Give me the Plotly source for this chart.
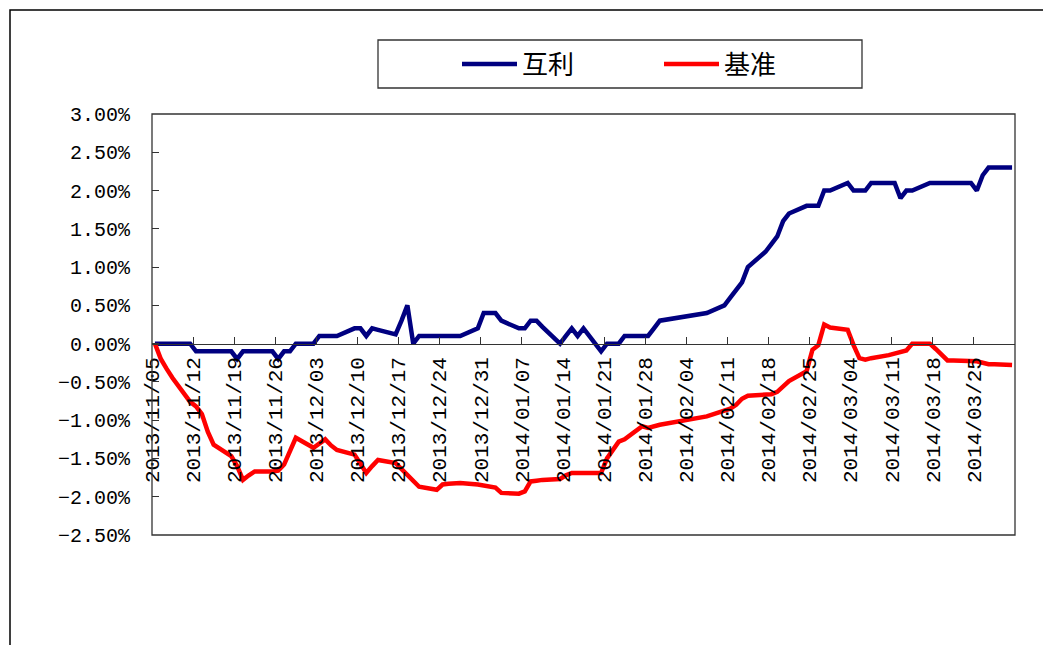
import pandas as pd
import plotly.graph_objects as go

# ---- data -------------------------------------------------------------
dates = [
    "2013-11-05", "2013-11-06", "2013-11-07", "2013-11-08", "2013-11-11", "2013-11-12",
    "2013-11-13", "2013-11-14", "2013-11-15", "2013-11-18", "2013-11-19", "2013-11-20",
    "2013-11-21", "2013-11-22", "2013-11-25", "2013-11-26", "2013-11-27", "2013-11-28",
    "2013-11-29",
    "2013-12-02", "2013-12-03", "2013-12-04", "2013-12-05", "2013-12-06", "2013-12-09",
    "2013-12-10", "2013-12-11", "2013-12-12", "2013-12-13", "2013-12-16", "2013-12-17",
    "2013-12-18", "2013-12-19", "2013-12-20", "2013-12-23", "2013-12-24", "2013-12-25",
    "2013-12-26", "2013-12-27", "2013-12-30", "2013-12-31",
    "2014-01-02", "2014-01-03", "2014-01-06", "2014-01-07", "2014-01-08", "2014-01-09",
    "2014-01-10", "2014-01-13", "2014-01-14", "2014-01-15", "2014-01-16", "2014-01-17",
    "2014-01-20", "2014-01-21", "2014-01-22", "2014-01-23", "2014-01-24", "2014-01-27",
    "2014-01-28", "2014-01-29", "2014-01-30",
    "2014-02-07", "2014-02-10", "2014-02-11", "2014-02-12", "2014-02-13", "2014-02-14",
    "2014-02-17", "2014-02-18", "2014-02-19", "2014-02-20", "2014-02-21", "2014-02-24",
    "2014-02-25", "2014-02-26", "2014-02-27", "2014-02-28",
    "2014-03-03", "2014-03-04", "2014-03-05", "2014-03-06", "2014-03-07", "2014-03-10",
    "2014-03-11", "2014-03-12", "2014-03-13", "2014-03-14", "2014-03-17", "2014-03-18",
    "2014-03-19", "2014-03-20", "2014-03-21", "2014-03-24", "2014-03-25", "2014-03-26",
    "2014-03-27", "2014-03-28", "2014-03-31",
]

# 互利 (percent)
huli = [
    0, 0, 0, 0, 0, -0.1, -0.1, -0.1, -0.1, -0.1, -0.2, -0.1, -0.1, -0.1, -0.1, -0.2, -0.1, -0.1, 0.0,
    0.0, 0.1, 0.1, 0.1, 0.1, 0.2, 0.2, 0.1, 0.2, 0.18, 0.12, 0.3, 0.5, 0.0, 0.1, 0.1, 0.1, 0.1,
    0.1, 0.1, 0.2, 0.4,
    0.4, 0.3, 0.2, 0.2, 0.3, 0.3, 0.22, 0.0, 0.1, 0.2, 0.1, 0.2, -0.1, 0.0, 0.0, 0.0, 0.1, 0.1,
    0.1, 0.2, 0.3,
    0.4, 0.5, 0.6, 0.7, 0.8, 1.0, 1.2, 1.3, 1.4, 1.6, 1.7, 1.8, 1.8, 1.8, 2.0, 2.0,
    2.1, 2.0, 2.0, 2.0, 2.1, 2.1, 2.1, 1.9, 2.0, 2.0, 2.1, 2.1, 2.1, 2.1, 2.1, 2.1, 2.0, 2.2,
    2.3, 2.3, 2.3,
]

# 基准 (percent)
jizhun = [
    0, -0.2, -0.33, -0.45, -0.76, -0.82, -0.92, -1.15, -1.32, -1.47, -1.6, -1.78, -1.72, -1.67,
    -1.67, -1.66, -1.58, -1.42, -1.23,
    -1.36, -1.3, -1.25, -1.33, -1.39, -1.45, -1.57, -1.69, -1.6, -1.52, -1.56, -1.64, -1.72,
    -1.8, -1.87, -1.91, -1.84, -1.83, -1.82, -1.82, -1.84, -1.85,
    -1.88, -1.95, -1.96, -1.93, -1.80, -1.79, -1.78, -1.77, -1.72, -1.69, -1.69, -1.69, -1.69,
    -1.5, -1.38, -1.28, -1.25, -1.08, -1.10, -1.08, -1.06,
    -0.95, -0.88, -0.85, -0.80, -0.72, -0.68, -0.67, -0.66, -0.63, -0.56, -0.49, -0.36, -0.08,
    -0.02, 0.25, 0.21,
    0.18, -0.02, -0.19, -0.21, -0.19, -0.15, -0.13, -0.12, -0.09, 0.0, 0.0, -0.07, -0.15, -0.22,
    -0.22, -0.23, -0.23, -0.25, -0.27, -0.27, -0.28,
]

tick_dates = [
    "2013-11-05", "2013-11-12", "2013-11-19", "2013-11-26", "2013-12-03", "2013-12-10",
    "2013-12-17", "2013-12-24", "2013-12-31", "2014-01-07", "2014-01-14", "2014-01-21",
    "2014-01-28", "2014-02-04", "2014-02-11", "2014-02-18", "2014-02-25", "2014-03-04",
    "2014-03-11", "2014-03-18", "2014-03-25",
]
y_ticks = [-2.5, -2.0, -1.5, -1.0, -0.5, 0.0, 0.5, 1.0, 1.5, 2.0, 2.5, 3.0]

# ---- figure -----------------------------------------------------------
d = pd.to_datetime(dates)
xs = d + pd.Timedelta(hours=12)          # points centred in their day (between tick marks)
x_range = [d[0], d[-1] + pd.Timedelta(days=1)]
tv = pd.to_datetime(tick_dates)
tt = [t.strftime("%Y/%m/%d") for t in tv]

y_min, y_max = y_ticks[0] / 100, y_ticks[-1] / 100

fig = go.Figure()
fig.add_trace(go.Scatter(x=xs, y=[v / 100 for v in huli], mode="lines", name="互利",
                         line=dict(color="#000080", width=4.5)))
fig.add_trace(go.Scatter(x=xs, y=[v / 100 for v in jizhun], mode="lines", name="基准",
                         line=dict(color="#FF0000", width=4.5)))

OFF = 8                      # page body margin
W, H = 1051 - OFF, 645 - OFF
# target plot area in window pixels: x 152..1015, y 114..535
ml, mt = 152 - OFF, 114 - OFF
mr = W - (1015 - OFF)
mb = H - (535 - OFF)
pw, ph = W - ml - mr, H - mt - mb

def px_x(p):
    return (p - OFF - ml) / pw

def px_y(p):
    return (H - mb - (p - OFF)) / ph

y_font = dict(family="Liberation Mono, DejaVu Sans Mono, monospace", size=20, color="#000000")
x_font = dict(family="Liberation Mono, DejaVu Sans Mono, monospace", size=21, color="#000000")

fig.update_layout(
    width=W, height=H,
    margin=dict(l=ml, r=mr, t=mt, b=mb, pad=0),
    paper_bgcolor="white", plot_bgcolor="white",
    showlegend=True,
    legend=dict(
        orientation="h",
        x=px_x(457), xanchor="left",
        y=px_y(64), yanchor="middle",
        bgcolor="rgba(0,0,0,0)", borderwidth=0,
        font=dict(family="Noto Sans CJK SC", size=26, color="#000000"),
        itemwidth=55,
        entrywidth=132, entrywidthmode="pixels",
    ),
    xaxis=dict(
        type="date",
        range=x_range,
        anchor="free",
        position=(0 - y_min) / (y_max - y_min),
        tickvals=tv, ticktext=tt,
        tickangle=-90,
        ticks="inside", ticklen=7, tickcolor="#333333", tickwidth=1,
        showline=True, linecolor="#333333", linewidth=1,
        showgrid=False, zeroline=False,
        tickfont=x_font,
        ticklabelstandoff=4,
    ),
    yaxis=dict(
        range=[y_min, y_max],
        tickvals=[v / 100 for v in y_ticks],
        tickformat=".2%",
        ticks="inside", ticklen=7, tickcolor="#333333", tickwidth=1,
        showline=False,
        showgrid=False, zeroline=False,
        tickfont=y_font,
        ticklabelstandoff=21,
    ),
    shapes=[
        # plot-area frame
        dict(type="rect", xref="x domain", yref="y domain", x0=0, x1=1, y0=0, y1=1,
             line=dict(color="#333333", width=1.3), fillcolor="rgba(0,0,0,0)", layer="above"),
        # legend box
        dict(type="rect", xref="paper", yref="paper",
             x0=px_x(378), x1=px_x(862), y0=px_y(88), y1=px_y(40),
             line=dict(color="#333333", width=1.3), fillcolor="rgba(0,0,0,0)"),
        # outer chart frame (extends past the window)
        dict(type="rect", xref="paper", yref="paper",
             x0=px_x(10), x1=px_x(1300), y0=px_y(900), y1=px_y(10),
             line=dict(color="#000000", width=1.5), fillcolor="rgba(0,0,0,0)"),
    ],
)

fig.write_html("out.html")
